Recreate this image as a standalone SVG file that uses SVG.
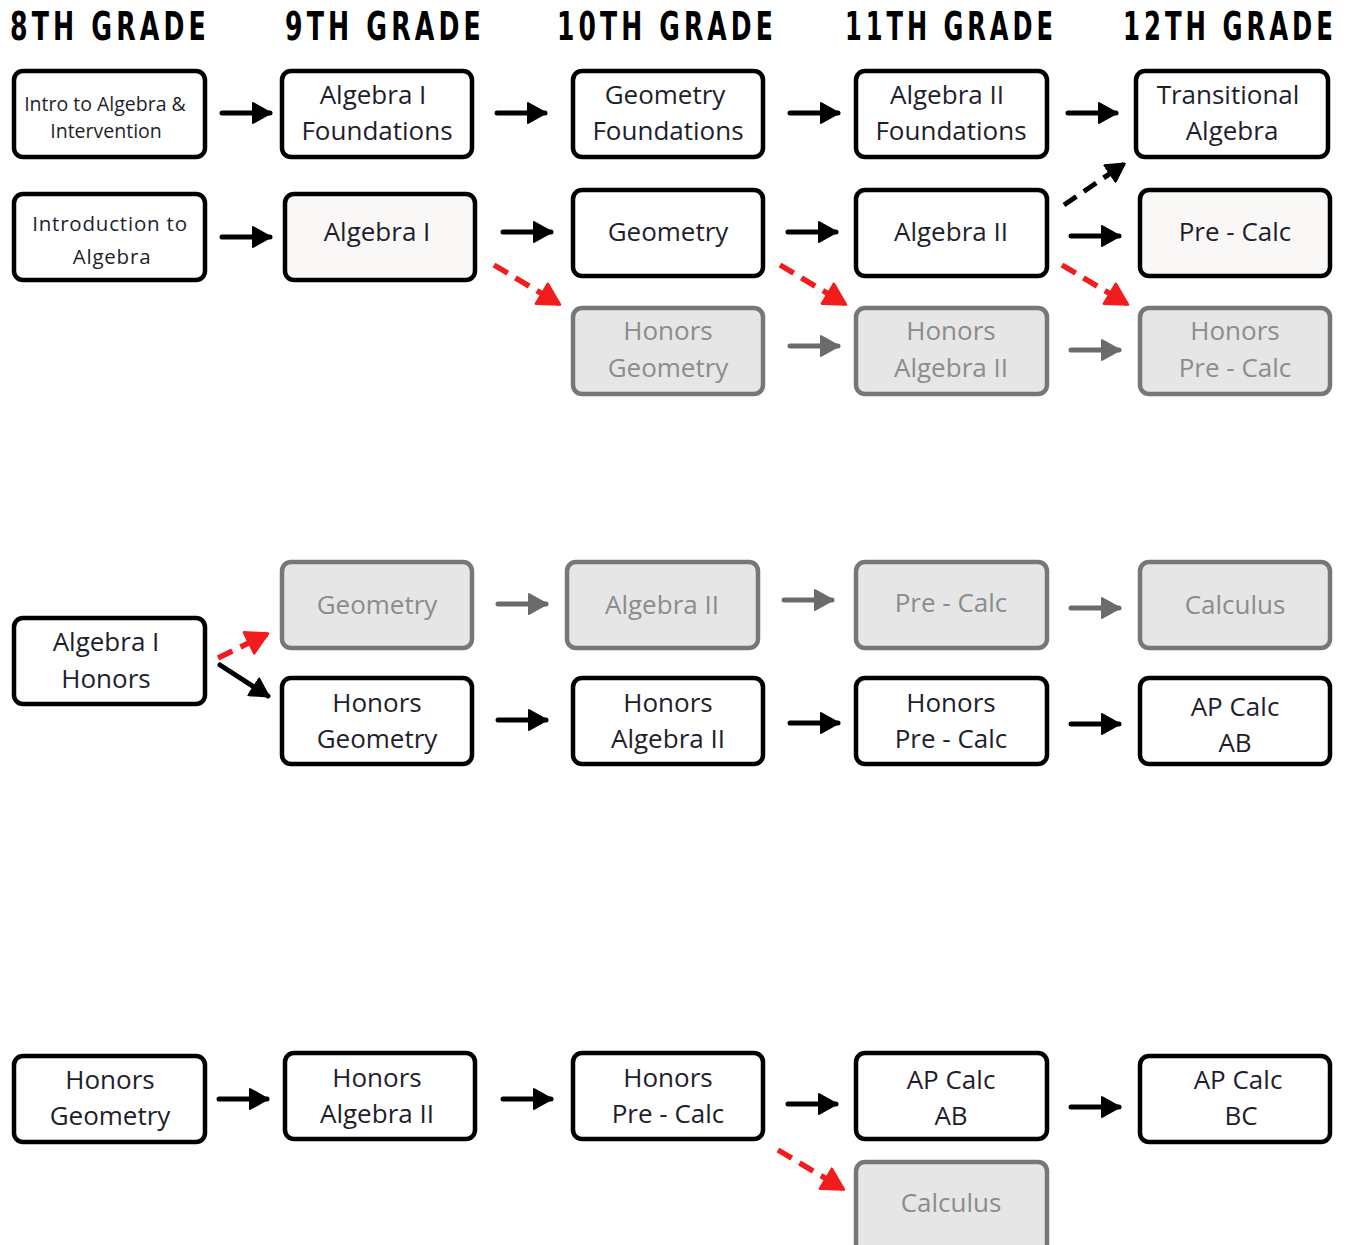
<svg xmlns="http://www.w3.org/2000/svg" width="1357" height="1245" viewBox="0 0 1357 1245">
<style>
.hdr{font-family:"DejaVu Sans",sans-serif;font-weight:bold;font-stretch:condensed;font-size:27px;fill:#000;letter-spacing:4px}
.b{fill:#fff;stroke:#000;stroke-width:4.5}
.w{fill:#f9f8f6;stroke:#000;stroke-width:4.5}
.g{fill:#e6e6e6;stroke:#777;stroke-width:4.5}
.t{font-family:"Open Sans",sans-serif;font-size:26px;fill:#1e1e2c;text-anchor:middle}
.tg{font-family:"Open Sans",sans-serif;font-size:26px;fill:#8c8c8c;text-anchor:middle}
.ab{stroke:#000;stroke-width:5;fill:none;stroke-linecap:round}
.ag{stroke:#6b6b6b;stroke-width:5;fill:none;stroke-linecap:round}
.ar{stroke:#f21c1c;stroke-width:5.5;fill:none;stroke-dasharray:16 9}
.ad{stroke:#000;stroke-width:5;fill:none;stroke-dasharray:15 9}
</style>
<defs>
<marker id="hb" viewBox="0 0 20 22" refX="18" refY="11" markerWidth="20" markerHeight="22" markerUnits="userSpaceOnUse" orient="auto"><path d="M1 1 L19 11 L1 21 Z" fill="#000" stroke="#000" stroke-width="2" stroke-linejoin="round"/></marker>
<marker id="hg" viewBox="0 0 20 22" refX="18" refY="11" markerWidth="20" markerHeight="22" markerUnits="userSpaceOnUse" orient="auto"><path d="M1 1 L19 11 L1 21 Z" fill="#6b6b6b" stroke="#6b6b6b" stroke-width="2" stroke-linejoin="round"/></marker>
<marker id="hr" viewBox="0 0 20 22" refX="18" refY="11" markerWidth="24" markerHeight="26" markerUnits="userSpaceOnUse" orient="auto"><path d="M1 1 L19 11 L1 21 Z" fill="#f21c1c" stroke="#f21c1c" stroke-width="2" stroke-linejoin="round"/></marker>
</defs>

<g id="headers">
<text class="hdr" transform="translate(10,40) scale(1,1.45)" x="0" y="0" textLength="200" lengthAdjust="spacingAndGlyphs">8TH GRADE</text>
<text class="hdr" transform="translate(285,40) scale(1,1.45)" x="0" y="0" textLength="200" lengthAdjust="spacingAndGlyphs">9TH GRADE</text>
<text class="hdr" transform="translate(557,40) scale(1,1.45)" x="0" y="0" textLength="220" lengthAdjust="spacingAndGlyphs">10TH GRADE</text>
<text class="hdr" transform="translate(845,40) scale(1,1.45)" x="0" y="0" textLength="212" lengthAdjust="spacingAndGlyphs">11TH GRADE</text>
<text class="hdr" transform="translate(1123,40) scale(1,1.45)" x="0" y="0" textLength="214" lengthAdjust="spacingAndGlyphs">12TH GRADE</text>
</g>

<g id="connectors">
<line class="ab" x1="222" y1="113" x2="270" y2="113" marker-end="url(#hb)"/>
<line class="ab" x1="497" y1="113" x2="545" y2="113" marker-end="url(#hb)"/>
<line class="ab" x1="790" y1="113" x2="838" y2="113" marker-end="url(#hb)"/>
<line class="ab" x1="1068" y1="113" x2="1116" y2="113" marker-end="url(#hb)"/>
<line class="ab" x1="222" y1="237" x2="270" y2="237" marker-end="url(#hb)"/>
<line class="ab" x1="503" y1="232" x2="551" y2="232" marker-end="url(#hb)"/>
<line class="ab" x1="788" y1="232" x2="836" y2="232" marker-end="url(#hb)"/>
<line class="ab" x1="1071" y1="236" x2="1119" y2="236" marker-end="url(#hb)"/>
<line class="ad" x1="1064" y1="205" x2="1124" y2="164" marker-end="url(#hb)"/>
<line class="ar" x1="494" y1="265" x2="559" y2="304" marker-end="url(#hr)"/>
<line class="ar" x1="780" y1="265" x2="845" y2="304" marker-end="url(#hr)"/>
<line class="ar" x1="1062" y1="265" x2="1127" y2="304" marker-end="url(#hr)"/>
<line class="ag" x1="790" y1="346" x2="838" y2="346" marker-end="url(#hg)"/>
<line class="ag" x1="1071" y1="350" x2="1119" y2="350" marker-end="url(#hg)"/>

<line class="ar" x1="218" y1="658" x2="267" y2="634" marker-end="url(#hr)"/>
<line class="ab" x1="220" y1="665" x2="268" y2="696" marker-end="url(#hb)"/>
<line class="ag" x1="498" y1="604" x2="546" y2="604" marker-end="url(#hg)"/>
<line class="ag" x1="784" y1="600" x2="832" y2="600" marker-end="url(#hg)"/>
<line class="ag" x1="1071" y1="608" x2="1119" y2="608" marker-end="url(#hg)"/>
<line class="ab" x1="498" y1="720" x2="546" y2="720" marker-end="url(#hb)"/>
<line class="ab" x1="790" y1="723" x2="838" y2="723" marker-end="url(#hb)"/>
<line class="ab" x1="1071" y1="724" x2="1119" y2="724" marker-end="url(#hb)"/>

<line class="ab" x1="219" y1="1099" x2="267" y2="1099" marker-end="url(#hb)"/>
<line class="ab" x1="503" y1="1099" x2="551" y2="1099" marker-end="url(#hb)"/>
<line class="ab" x1="788" y1="1104" x2="836" y2="1104" marker-end="url(#hb)"/>
<line class="ab" x1="1071" y1="1107" x2="1119" y2="1107" marker-end="url(#hb)"/>
<line class="ar" x1="778" y1="1150" x2="843" y2="1189" marker-end="url(#hr)"/>
</g>

<g id="n1"><rect class="b" x="14" y="71" width="191" height="86" rx="9"/><text class="t" style="font-size:19.5px" x="105" y="111">Intro to Algebra &amp;</text><text class="t" style="font-size:19.5px" x="106" y="138">Intervention</text></g>
<g id="n2"><rect class="b" x="282" y="71" width="190" height="86" rx="9"/><text class="t" x="373" y="104">Algebra I</text><text class="t" x="377" y="140">Foundations</text></g>
<g id="n3"><rect class="b" x="573" y="71" width="190" height="86" rx="9"/><text class="t" x="665" y="104">Geometry</text><text class="t" x="668" y="140">Foundations</text></g>
<g id="n4"><rect class="b" x="856" y="71" width="191" height="86" rx="9"/><text class="t" x="947" y="104">Algebra II</text><text class="t" x="951" y="140">Foundations</text></g>
<g id="n5"><rect class="b" x="1136" y="71" width="192" height="86" rx="9"/><text class="t" x="1228" y="104">Transitional</text><text class="t" x="1232" y="140">Algebra</text></g>
<g id="n6"><rect class="b" x="14" y="194" width="191" height="86" rx="9"/><text class="t" style="font-size:20.5px;letter-spacing:0.8px" x="110" y="231">Introduction to</text><text class="t" style="font-size:20.5px;letter-spacing:0.8px" x="112" y="264">Algebra</text></g>
<g id="n7"><rect class="w" x="285" y="194" width="190" height="86" rx="9"/><text class="t" x="377" y="241">Algebra I</text></g>
<g id="n8"><rect class="b" x="573" y="190" width="190" height="86" rx="9"/><text class="t" x="668" y="241">Geometry</text></g>
<g id="n9"><rect class="b" x="856" y="190" width="191" height="86" rx="9"/><text class="t" x="951" y="241">Algebra II</text></g>
<g id="n10"><rect class="w" x="1140" y="190" width="190" height="86" rx="9"/><text class="t" x="1235" y="241">Pre - Calc</text></g>
<g id="n11"><rect class="g" x="573" y="308" width="190" height="86" rx="9"/><text class="tg" x="668" y="340">Honors</text><text class="tg" x="668" y="377">Geometry</text></g>
<g id="n12"><rect class="g" x="856" y="308" width="191" height="86" rx="9"/><text class="tg" x="951" y="340">Honors</text><text class="tg" x="951" y="377">Algebra II</text></g>
<g id="n13"><rect class="g" x="1140" y="308" width="190" height="86" rx="9"/><text class="tg" x="1235" y="340">Honors</text><text class="tg" x="1235" y="377">Pre - Calc</text></g>

<g id="n14"><rect class="b" x="14" y="618" width="191" height="86" rx="9"/><text class="t" x="106" y="651">Algebra I</text><text class="t" x="106" y="688">Honors</text></g>
<g id="n15"><rect class="g" x="282" y="562" width="190" height="86" rx="9"/><text class="tg" x="377" y="614">Geometry</text></g>
<g id="n16"><rect class="b" x="282" y="678" width="190" height="86" rx="9"/><text class="t" x="377" y="712">Honors</text><text class="t" x="377" y="748">Geometry</text></g>
<g id="n17"><rect class="g" x="567" y="562" width="191" height="86" rx="9"/><text class="tg" x="662" y="614">Algebra II</text></g>
<g id="n18"><rect class="b" x="573" y="678" width="190" height="86" rx="9"/><text class="t" x="668" y="712">Honors</text><text class="t" x="668" y="748">Algebra II</text></g>
<g id="n19"><rect class="g" x="856" y="562" width="191" height="86" rx="9"/><text class="tg" x="951" y="612">Pre - Calc</text></g>
<g id="n20"><rect class="b" x="856" y="678" width="191" height="86" rx="9"/><text class="t" x="951" y="712">Honors</text><text class="t" x="951" y="748">Pre - Calc</text></g>
<g id="n21"><rect class="g" x="1140" y="562" width="190" height="86" rx="9"/><text class="tg" x="1235" y="614">Calculus</text></g>
<g id="n22"><rect class="b" x="1140" y="678" width="190" height="86" rx="9"/><text class="t" x="1235" y="716">AP Calc</text><text class="t" x="1235" y="752">AB</text></g>

<g id="n23"><rect class="b" x="14" y="1056" width="191" height="86" rx="9"/><text class="t" x="110" y="1089">Honors</text><text class="t" x="110" y="1125">Geometry</text></g>
<g id="n24"><rect class="b" x="285" y="1053" width="190" height="86" rx="9"/><text class="t" x="377" y="1087">Honors</text><text class="t" x="377" y="1123">Algebra II</text></g>
<g id="n25"><rect class="b" x="573" y="1053" width="190" height="86" rx="9"/><text class="t" x="668" y="1087">Honors</text><text class="t" x="668" y="1123">Pre - Calc</text></g>
<g id="n26"><rect class="b" x="856" y="1053" width="191" height="86" rx="9"/><text class="t" x="951" y="1089">AP Calc</text><text class="t" x="951" y="1125">AB</text></g>
<g id="n27"><rect class="b" x="1140" y="1056" width="190" height="86" rx="9"/><text class="t" x="1238" y="1089">AP Calc</text><text class="t" x="1241" y="1125">BC</text></g>
<g id="n28"><rect class="g" x="856" y="1162" width="191" height="95" rx="9"/><text class="tg" x="951" y="1212">Calculus</text></g>
</svg>
